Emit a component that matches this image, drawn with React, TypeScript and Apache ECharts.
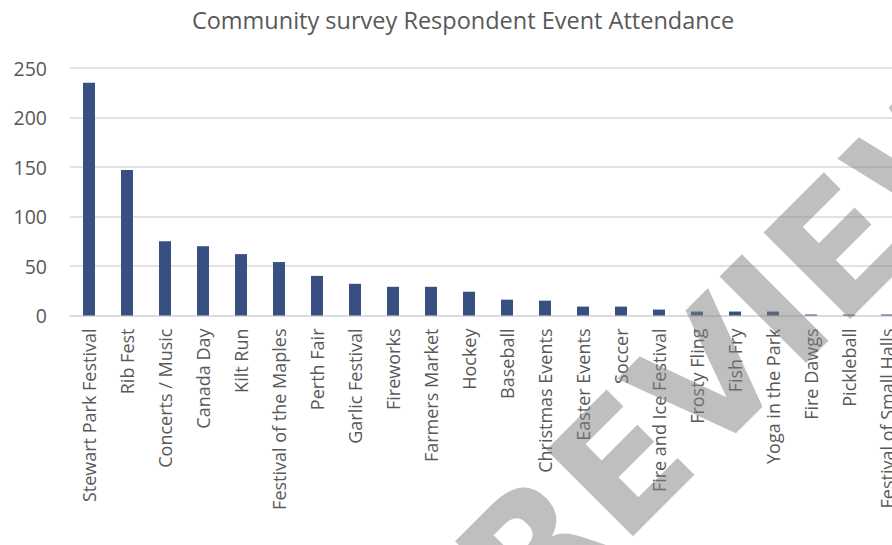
import React, { useEffect, useRef } from "react";
import * as echarts from "echarts";

const categories = [
  "Stewart Park Festival",
  "Rib Fest",
  "Concerts / Music",
  "Canada Day",
  "Kilt Run",
  "Festival of the Maples",
  "Perth Fair",
  "Garlic Festival",
  "Fireworks",
  "Farmers Market",
  "Hockey",
  "Baseball",
  "Christmas Events",
  "Easter Events",
  "Soccer",
  "Fire and Ice Festival",
  "Frosty Fling",
  "Fish Fry",
  "Yoga in the Park",
  "Fire Dawgs",
  "Pickleball",
  "Festival of Small Halls",
];

const attendance = [235, 147, 75, 70, 62, 54, 40, 32, 29, 29, 24, 16, 15, 9, 9, 6, 4, 4, 4, 1, 1, 1];

const titleText = "Community survey Respondent Event Attendance";
const watermarkText = "REVIEW";

export default function App() {
  const ref = useRef<HTMLDivElement>(null);

  useEffect(() => {
    document.body.style.overflow = "hidden";
    const chart = echarts.init(ref.current!, null, { renderer: "svg" });
    const font = '"Open Sans", "DejaVu Sans", sans-serif';
    chart.setOption({
      animation: false,
      backgroundColor: "#ffffff",
      title: {
        text: titleText,
        left: "center",
        top: 3,
        textStyle: { fontFamily: font, fontSize: 23.5, fontWeight: "normal", color: "#595959" },
      },
      grid: { left: 70, right: 20, top: 68, bottom: 229.5, containLabel: false },
      xAxis: {
        type: "category",
        data: categories,
        axisTick: { show: false },
        axisLine: { lineStyle: { color: "#D9D9D9", width: 1.5 } },
        axisLabel: {
          interval: 0,
          rotate: 90,
          margin: 13,
          fontFamily: font,
          fontSize: 18,
          color: "#595959",
        },
      },
      yAxis: {
        type: "value",
        min: 0,
        max: 250,
        interval: 50,
        axisLine: { show: false },
        axisTick: { show: false },
        splitLine: { lineStyle: { color: "#D9D9D9", width: 1.5 } },
        axisLabel: { margin: 23, fontFamily: font, fontSize: 19.5, color: "#595959" },
      },
      series: [
        {
          type: "bar",
          data: attendance,
          barWidth: 12,
          itemStyle: { color: "#374F81" },
        },
      ],
      graphic: [
        {
          type: "text",
          x: 549,
          y: 657,
          rotation: Math.PI / 4,
          z: 100,
          silent: true,
          style: {
            text: watermarkText,
            fontFamily: '"DejaVu Sans", sans-serif',
            fontWeight: "bold",
            fontSize: 168,
            fill: "rgba(128,128,128,0.5)",
            align: "left",
            verticalAlign: "bottom",
          },
        },
      ],
    });
    return () => chart.dispose();
  }, []);

  return (
    <div
      ref={ref}
      style={{ position: "fixed", left: 0, top: 0, width: 926, height: 545 }}
    />
  );
}
